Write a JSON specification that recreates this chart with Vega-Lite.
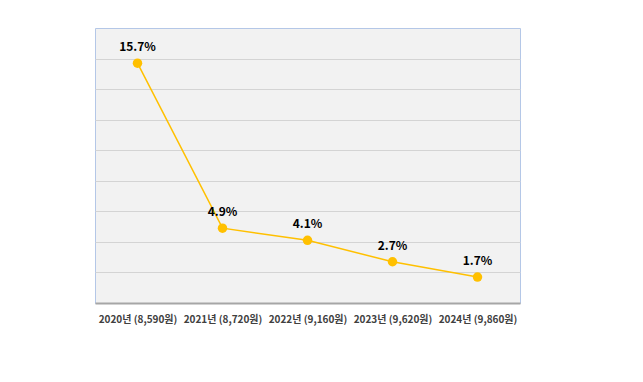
{
  "$schema": "https://vega.github.io/schema/vega-lite/v6.json",
  "autosize": {"type": "none"},
  "width": 425,
  "height": 275,
  "padding": {"left": 95, "top": 28, "right": 123, "bottom": 79},
  "background": "white",
  "config": {
    "view": {"fill": "#f2f2f2", "stroke": "#b4c7e7", "strokeWidth": 1},
    "font": "Noto Sans CJK KR"
  },
  "data": {
    "values": [
      {"year": "2020년 (8,590원)", "rate": 15.7, "label": "15.7%"},
      {"year": "2021년 (8,720원)", "rate": 4.9, "label": "4.9%"},
      {"year": "2022년 (9,160원)", "rate": 4.1, "label": "4.1%"},
      {"year": "2023년 (9,620원)", "rate": 2.7, "label": "2.7%"},
      {"year": "2024년 (9,860원)", "rate": 1.7, "label": "1.7%"}
    ]
  },
  "encoding": {
    "x": {
      "field": "year", "type": "ordinal", "sort": null,
      "scale": {"type": "point", "padding": 0.5},
      "axis": {
        "title": null, "labelAngle": 0, "ticks": false,
        "domainColor": "#a6a6a6", "domainWidth": 2,
        "labelFont": "Noto Sans CJK KR", "labelFontSize": 10, "labelFontWeight": "bold",
        "labelColor": "#404040", "labelPadding": 11, "grid": false
      }
    },
    "y": {
      "field": "rate", "type": "quantitative",
      "scale": {"domain": [0, 18], "nice": false, "zero": true},
      "axis": {
        "title": null, "labels": false, "ticks": false, "domain": false,
        "grid": true, "gridColor": "#d4d4d4", "gridWidth": 1,
        "values": [2, 4, 6, 8, 10, 12, 14, 16]
      }
    }
  },
  "layer": [
    {"mark": {"type": "line", "color": "#ffc000", "strokeWidth": 1.5}},
    {"mark": {"type": "point", "filled": true, "color": "#ffc000", "size": 90, "opacity": 1}},
    {
      "mark": {"type": "text", "dy": -16, "fontSize": 12, "fontWeight": "bold", "color": "#000000", "font": "Noto Sans CJK KR"},
      "encoding": {"text": {"field": "label"}}
    }
  ]
}
